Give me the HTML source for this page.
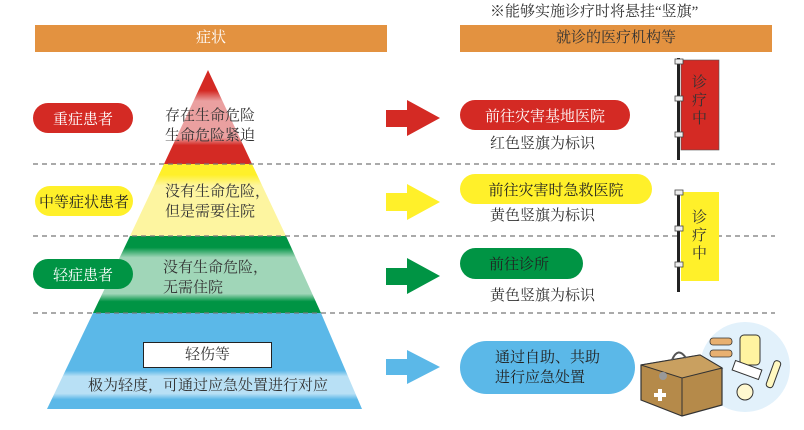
<!DOCTYPE html>
<html><head><meta charset="utf-8"><style>
body{margin:0;width:804px;height:430px;background:#fff;position:relative;overflow:hidden;font-family:"Liberation Serif","Noto Serif CJK SC",serif;color:#333}
.a{position:absolute}
.pill{position:absolute;border-radius:16px;display:flex;align-items:center;justify-content:center;font-size:15px}
.t{position:absolute;font-size:15px;line-height:20px;white-space:nowrap}
</style></head><body>
<div class="t" style="left:490px;top:2px;font-size:15px">※能够实施诊疗时将悬挂“竖旗”</div>
<div class="a" style="left:35px;top:25px;width:352px;height:27px;background:#e39240;color:#fff;text-align:center;line-height:27px;font-size:15px">症状</div>
<div class="a" style="left:460px;top:25px;width:312px;height:27px;background:#e39240;color:#333;text-align:center;line-height:27px;font-size:15px">就诊的医疗机构等</div>
<svg class="a" style="left:0;top:0" width="804" height="430">
<defs>
<linearGradient id="r" x1="0" y1="70" x2="0" y2="164" gradientUnits="userSpaceOnUse"><stop offset="0" stop-color="#d42a24"/><stop offset=".22" stop-color="#d42a24"/><stop offset=".33" stop-color="#eaa0a0"/><stop offset=".72" stop-color="#eaa0a0"/><stop offset=".8" stop-color="#d42a24"/></linearGradient>
<linearGradient id="y" x1="0" y1="164" x2="0" y2="236" gradientUnits="userSpaceOnUse"><stop offset="0" stop-color="#fff02a"/><stop offset=".15" stop-color="#fff02a"/><stop offset=".3" stop-color="#fdf5a0"/><stop offset="1" stop-color="#fdf5a0"/></linearGradient>
<linearGradient id="g" x1="0" y1="236" x2="0" y2="313" gradientUnits="userSpaceOnUse"><stop offset="0" stop-color="#009444"/><stop offset=".15" stop-color="#009444"/><stop offset=".28" stop-color="#a0d6b8"/><stop offset=".75" stop-color="#a0d6b8"/><stop offset=".85" stop-color="#009444"/></linearGradient>
<linearGradient id="b" x1="0" y1="313" x2="0" y2="409" gradientUnits="userSpaceOnUse"><stop offset="0" stop-color="#5bb8e8"/><stop offset=".6" stop-color="#5bb8e8"/><stop offset=".66" stop-color="#b8e0f5"/><stop offset=".84" stop-color="#b8e0f5"/><stop offset=".9" stop-color="#5bb8e8"/></linearGradient>
</defs>
<polygon points="208,70 252,164 164,164" fill="url(#r)"/>
<polygon points="164,164 252,164 286,236 130,236" fill="url(#y)"/>
<polygon points="130,236 286,236 321,313 93,313" fill="url(#g)"/>
<polygon points="93,313 321,313 362,409 47,409" fill="url(#b)"/>
<g stroke="#777" stroke-width="1.2" stroke-dasharray="5,4"><line x1="33" y1="164" x2="775" y2="164"/><line x1="33" y1="236" x2="775" y2="236"/><line x1="33" y1="313" x2="775" y2="313"/></g>
<polygon points="386,110 407,110 407,100 440,118 407,136 407,127 386,127" fill="#d42a24"/>
<polygon points="386,193 407,193 407,184 440,202 407,220 407,211 386,211" fill="#fff02a"/>
<polygon points="386,268 407,268 407,258 440,276 407,294 407,285 386,285" fill="#009444"/>
<polygon points="386,359 407,359 407,350 440,367 407,384 407,375 386,375" fill="#5bb8e8"/>
<rect x="677" y="58" width="3" height="102" fill="#222"/>
<rect x="681" y="60" width="38" height="90" fill="#d42a24" stroke="#555" stroke-width=".6"/>
<rect x="675" y="59" width="8" height="5" fill="#eee" stroke="#444" stroke-width=".8"/><rect x="675" y="96" width="8" height="5" fill="#eee" stroke="#444" stroke-width=".8"/><rect x="675" y="132" width="8" height="5" fill="#eee" stroke="#444" stroke-width=".8"/>
<rect x="677" y="190" width="3" height="102" fill="#222"/>
<rect x="681" y="192" width="38" height="89" fill="#fff02a"/>
<rect x="675" y="190" width="8" height="5" fill="#eee" stroke="#444" stroke-width=".8"/><rect x="675" y="226" width="8" height="5" fill="#eee" stroke="#444" stroke-width=".8"/><rect x="675" y="262" width="8" height="5" fill="#eee" stroke="#444" stroke-width=".8"/>
<circle cx="745" cy="367" r="45" fill="#e2f1fb"/>
<polygon points="641,365 700,355 722,368 722,405 682,416 641,400" fill="#b58a4a" stroke="#333" stroke-width="1.2"/>
<polygon points="641,365 700,355 722,368 682,378" fill="#c9a060" stroke="#333" stroke-width="1"/>
<line x1="682" y1="378" x2="682" y2="416" stroke="#333"/>
<path d="M672 360 q6 -14 14 -2" fill="none" stroke="#555" stroke-width="2"/>
<rect x="658" y="389" width="4" height="12" fill="#fff"/><rect x="654" y="393" width="12" height="4" fill="#fff"/>
<circle cx="663" cy="376" r="4" fill="#999"/>
<rect x="710" y="338" width="22" height="7" rx="3" fill="#e8b070" stroke="#333" stroke-width=".8"/>
<rect x="710" y="350" width="22" height="7" rx="3" fill="#e8b070" stroke="#333" stroke-width=".8"/>
<rect x="740" y="335" width="20" height="30" rx="4" fill="#fff3a0" stroke="#333"/>
<rect x="733" y="365" width="28" height="10" fill="#fff" stroke="#333" transform="rotate(20 747 370)"/>
<rect x="770" y="360" width="7" height="28" rx="3" fill="#fff8c0" stroke="#333" transform="rotate(20 773 374)"/>
<circle cx="745" cy="392" r="8" fill="#fff8d0" stroke="#333"/>
</svg>
<div class="pill" style="left:33px;top:103px;width:100px;height:30px;background:#d42a24;color:#fff">重症患者</div>
<div class="pill" style="left:35px;top:186px;width:98px;height:30px;background:#fff02a;color:#222">中等症状患者</div>
<div class="pill" style="left:33px;top:259px;width:100px;height:30px;background:#009444;color:#fff">轻症患者</div>
<div class="t" style="left:165px;top:106px">存在生命危险<br>生命危险紧迫</div>
<div class="t" style="left:165px;top:182px">没有生命危险，<br>但是需要住院</div>
<div class="t" style="left:163px;top:258px">没有生命危险，<br>无需住院</div>
<div class="a" style="left:143px;top:342px;width:127px;height:24px;background:#fff;border:1px solid #222;text-align:center;line-height:24px;font-size:15px">轻伤等</div>
<div class="t" style="left:0;width:416px;text-align:center;top:376px">极为轻度，可通过应急处置进行对应</div>
<div class="pill" style="left:460px;top:100px;width:170px;height:30px;background:#d42a24;color:#fff">前往灾害基地医院</div>
<div class="pill" style="left:460px;top:174px;width:192px;height:30px;background:#fff02a;color:#222">前往灾害时急救医院</div>
<div class="pill" style="left:460px;top:248px;width:123px;height:31px;background:#009444;color:#222;justify-content:flex-start;padding-left:29px;box-sizing:border-box">前往诊所</div>
<div class="pill" style="left:460px;top:341px;width:175px;height:53px;border-radius:27px;background:#5bb8e8;color:#222;justify-content:flex-start;padding-left:35px;box-sizing:border-box;line-height:20px">通过自助、共助<br>进行应急处置</div>
<div class="t" style="left:490px;top:134px">红色竖旗为标识</div>
<div class="t" style="left:490px;top:206px">黄色竖旗为标识</div>
<div class="t" style="left:490px;top:286px">黄色竖旗为标识</div>
<div class="t" style="left:692px;top:74px;line-height:18px;font-size:15px;color:#333">诊<br>疗<br>中</div>
<div class="t" style="left:692px;top:209px;line-height:18px;font-size:15px;color:#333">诊<br>疗<br>中</div>
</body></html>
